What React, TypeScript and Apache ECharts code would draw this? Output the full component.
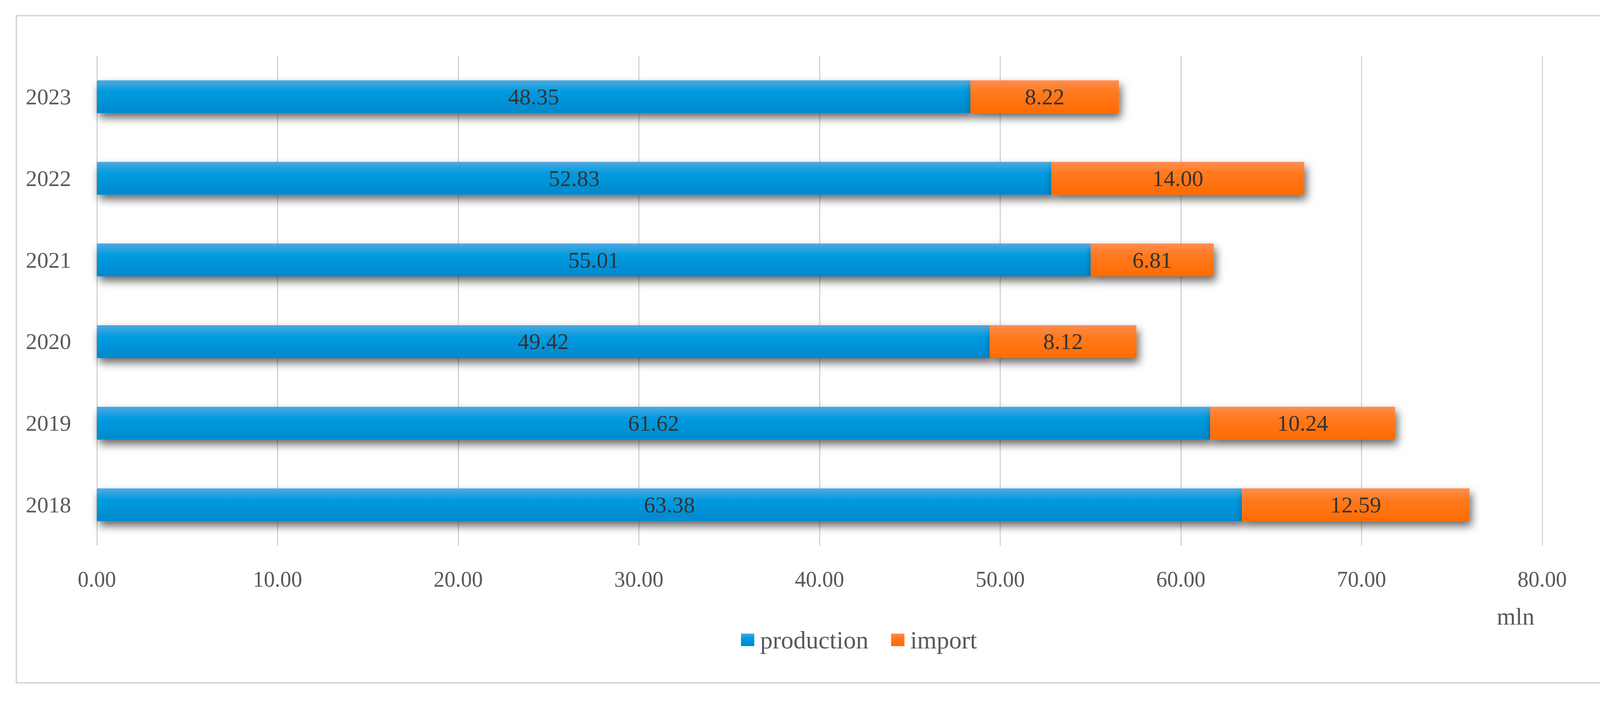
import React, { useEffect, useRef } from "react";
import * as echarts from "echarts";

const years = ["2018", "2019", "2020", "2021", "2022", "2023"];
const production = [63.38, 61.62, 49.42, 55.01, 52.83, 48.35];
const importVals = [12.59, 10.24, 8.12, 6.81, 14.0, 8.22];
const xTicks = { min: 0, max: 80, interval: 10 };
const unitLabel = "mln";

const FONT = "'Liberation Serif', 'DejaVu Serif', serif";

export default function App() {
  const ref = useRef<HTMLDivElement>(null);
  useEffect(() => {
    document.body.style.margin = "0";
    const chart = echarts.init(ref.current!, null, { renderer: "svg" });
    const blue = new echarts.graphic.LinearGradient(0, 0, 0, 1, [
      { offset: 0, color: "#4fa9e0" },
      { offset: 0.35, color: "#009be0" },
      { offset: 1, color: "#0088cc" },
    ]);
    const orange = new echarts.graphic.LinearGradient(0, 0, 0, 1, [
      { offset: 0, color: "#ff8d4f" },
      { offset: 0.35, color: "#ff7a1f" },
      { offset: 1, color: "#ff6b00" },
    ]);
    const shadow = {
      shadowColor: "rgba(0,0,0,0.6)",
      shadowBlur: 22,
      shadowOffsetX: 6,
      shadowOffsetY: 12,
    };
    const label = {
      show: true,
      position: "inside",
      fontFamily: FONT,
      fontSize: 58,
      color: "#333333",
      formatter: (p: any) => Number(p.value).toFixed(2),
    };
    chart.setOption({
      animation: false,
      backgroundColor: "#ffffff",
      grid: { left: 248, width: 3700, top: 143, height: 1253, containLabel: false },
      graphic: [
        {
          type: "rect",
          shape: { x: 42, y: 40, width: 4289, height: 1707 },
          style: { fill: "none", stroke: "#d9d9d9", lineWidth: 4 },
          silent: true,
        },
        {
          type: "text",
          x: 3880,
          y: 1577,
          style: {
            text: unitLabel,
            fontFamily: FONT,
            fontSize: 62,
            fill: "#595959",
            align: "center",
            verticalAlign: "middle",
          },
        },
      ],
      legend: {
        data: ["production", "import"],
        left: 1892,
        top: 1600,
        itemWidth: 34,
        itemHeight: 32,
        itemGap: 58,
        icon: "rect",
        textStyle: {
          fontFamily: FONT,
          fontSize: 64,
          color: "#595959",
          padding: [0, 0, 0, 10],
        },
      },
      xAxis: {
        type: "value",
        min: xTicks.min,
        max: xTicks.max,
        interval: xTicks.interval,
        axisLine: { show: false },
        axisTick: { show: false },
        splitLine: { show: true, lineStyle: { color: "#d4d4d4", width: 3 } },
        axisLabel: {
          fontFamily: FONT,
          fontSize: 56,
          color: "#595959",
          margin: 58,
          formatter: (v: number) => v.toFixed(2),
        },
      },
      yAxis: {
        type: "category",
        data: years,
        axisLine: { show: false },
        axisTick: { show: false },
        axisLabel: {
          fontFamily: FONT,
          fontSize: 58,
          color: "#595959",
          margin: 66,
        },
      },
      series: [
        {
          name: "production",
          type: "bar",
          stack: "total",
          data: production,
          barWidth: 84,
          itemStyle: { color: blue, ...shadow },
          label,
        },
        {
          name: "import",
          type: "bar",
          stack: "total",
          data: importVals,
          barWidth: 84,
          itemStyle: { color: orange, ...shadow },
          label,
        },
      ],
    });
    return () => chart.dispose();
  }, []);
  return <div ref={ref} style={{ width: 4363, height: 1796 }} />;
}
